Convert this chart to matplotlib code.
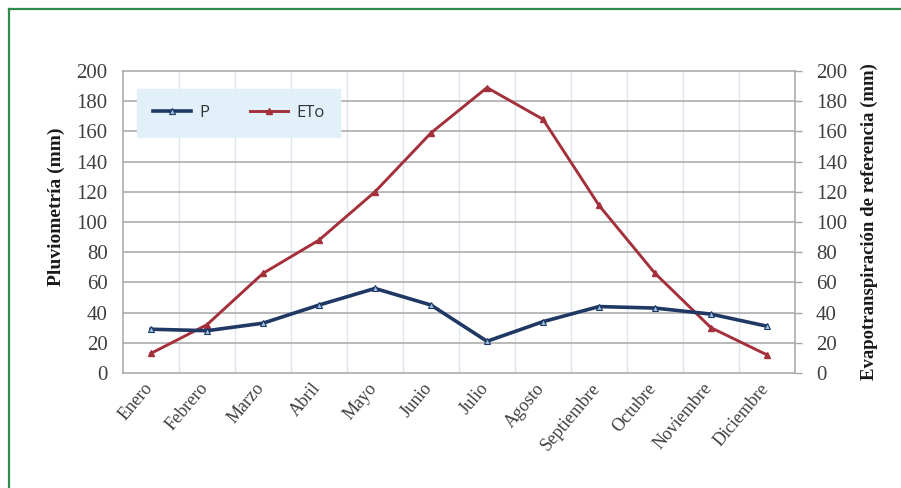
import matplotlib
matplotlib.use("Agg")
import matplotlib.pyplot as plt
from matplotlib.lines import Line2D
from matplotlib.ticker import FixedLocator
import matplotlib.transforms as mtransforms

months = ["Enero", "Febrero", "Marzo", "Abril", "Mayo", "Junio", "Julio",
          "Agosto", "Septiembre", "Octubre", "Noviembre", "Diciembre"]
p_mm = [29, 28, 33, 45, 56, 45, 21, 34, 44, 43, 39, 31]
eto_mm = [13, 32, 66, 88, 120, 159, 189, 168, 111, 66, 30, 12]
y_ticks = [0, 20, 40, 60, 80, 100, 120, 140, 160, 180, 200]

W, H = 901, 488
fig = plt.figure(figsize=(W / 100, H / 100), dpi=100)
fig.patch.set_facecolor("white")

# green frame (top and left edges)
green = "#2E8B4E"
fig.add_artist(Line2D([8.5 / W, 1.0], [1 - 8.5 / H, 1 - 8.5 / H], transform=fig.transFigure,
                      color=green, lw=1.6))
fig.add_artist(Line2D([8.5 / W, 8.5 / W], [0.0, 1 - 8.5 / H], transform=fig.transFigure,
                      color=green, lw=1.6))

left, right, top, bottom = 123, 795, 71, 373
ax = fig.add_axes([left / W, 1 - bottom / H, (right - left) / W, (bottom - top) / H])

x = list(range(len(months)))
ax.set_xlim(-0.5, len(months) - 0.5)
ax.set_ylim(0, 200)

serif = "Liberation Serif"
tick_color = "#404040"
tick_size = 15

# grid
for yv in y_ticks[1:-1]:
    ax.axhline(yv, color="#A6A6A6", lw=1.1, zorder=1)
for xv in range(len(months) - 1):
    ax.axvline(xv + 0.5, color="#DDE6EE", lw=1.0, zorder=0)
for s in ax.spines.values():
    s.set_color("#A6A6A6")
    s.set_linewidth(1.1)

lp, = ax.plot(x, p_mm, color="#1F3864", lw=2.6, marker="^", ms=4.5,
              mfc="#9DC3E6", mec="#1F3864", mew=0.8, zorder=4, label="P")
le, = ax.plot(x, eto_mm, color="#A3303A", lw=2.1, marker="^", ms=4.5,
              mfc="#A3303A", mec="#A3303A", zorder=3, label="ETo")

ax.yaxis.set_major_locator(FixedLocator(y_ticks))
ax.tick_params(axis="y", length=0, pad=11, labelsize=tick_size, labelcolor=tick_color)
for t in ax.get_yticklabels():
    t.set_fontfamily(serif)
ax.set_xticks(x)
ax.set_xticklabels(months, rotation=50, ha="right", rotation_mode="anchor",
                   fontfamily=serif, fontsize=13, color=tick_color)
ax.tick_params(axis="x", length=0, pad=5)
shift = mtransforms.ScaledTranslation(-8 / 100, 0, fig.dpi_scale_trans)
for t in ax.get_xticklabels():
    t.set_transform(t.get_transform() + shift)

ax.set_ylabel("Pluviometría (mm)", fontfamily=serif, fontweight="bold",
              fontsize=14, color="#1a1a1a", labelpad=6)
ax.yaxis.set_label_coords(-0.086, 0.55)

ax2 = ax.twinx()
ax2.set_ylim(0, 200)
ax2.yaxis.set_major_locator(FixedLocator(y_ticks))
ax2.tick_params(axis="y", length=5, width=1, color="#A6A6A6", pad=10,
                labelsize=tick_size, labelcolor=tick_color)
for t in ax2.get_yticklabels():
    t.set_fontfamily(serif)
for s in ax2.spines.values():
    s.set_visible(False)
ax2.set_ylabel("Evapotranspiración de referencia (mm)", fontfamily=serif,
               fontweight="bold", fontsize=13.5, color="#1a1a1a", labelpad=10)

leg = ax.legend(handles=[lp, le], loc="upper left", ncol=2,
                bbox_to_anchor=(137 / W, 1 - 89 / H), bbox_transform=fig.transFigure,
                frameon=True, fancybox=False, facecolor="#E2F0FA", edgecolor="#E2F0FA",
                framealpha=1.0, handlelength=2.3, handletextpad=0.5, columnspacing=2.4,
                borderpad=0.95, borderaxespad=0,
                prop={"family": "Open Sans", "size": 12})
for t in leg.get_texts():
    t.set_color("#333333")
leg.set_zorder(5)

fig.savefig("out.png", dpi=100)
